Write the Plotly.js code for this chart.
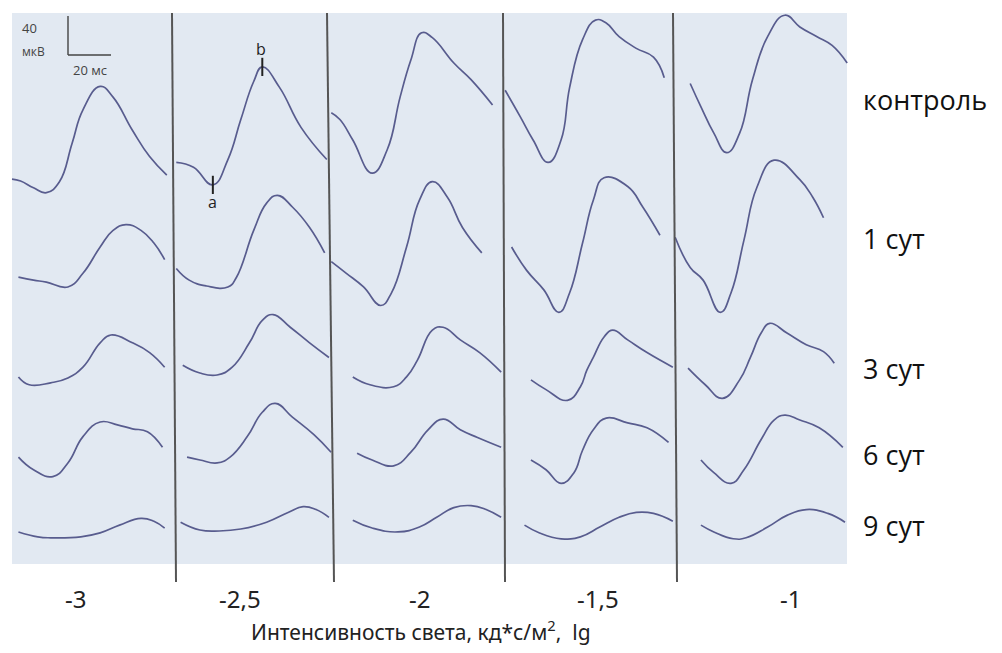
<!DOCTYPE html>
<html>
<head>
<meta charset="utf-8">
<script src="https://cdn.plot.ly/plotly-3.0.1.min.js"></script>
<style>html,body{margin:0;padding:0;background:#fff;}#chart{width:1002px;height:653px;}</style>
</head>
<body>
<div id="chart"></div>
<script>
// ---- DATA ----
const intensities = ['-3', '-2,5', '-2', '-1,5', '-1'];   // lg cd*s/m^2
const groups = ['контроль', '1 сут', '3 сут', '6 сут', '9 сут'];

// time (ms from panel start) and amplitude (µV from row baseline), one array per intensity
const t_control = [[0,4,10,16,22,28,33,41,47,56,64,72],[2,10,19,26,32,38,42,50,60,72],[2,6,12,21,28,34,39,44,49,59,67,77],[1,8,14,21,27,31,37,43,48,54,62,70,75],[8,13,19,25,31,37,44,52,59,67,74,81]];
const v_control = [[1,-1,-8,-13,-2,38,72,96,85,51,24,5],[18,13,-5,21,62,101,116,95,54,21],[69,62,41,7,31,85,123,151,146,120,103,77],[92,65,41,18,41,95,144,164,161,147,135,126,105],[99,75,48,28,48,103,147,169,157,147,138,120]];

const t_day1 = [[3,10,16,26,33,41,47,53,60,66,71],[2,8,16,26,30,38,44,49,56,64,71],[2,9,17,25,30,37,43,49,56,63,72],[4,11,19,26,31,37,42,47,58,65,73],[1,8,14,22,27,33,39,47,59,65,70]];
const v_day1 = [[8,5,3,-2,12,39,56,62,56,43,26],[17,5,-1,-2,8,56,84,92,80,59,33],[24,12,-2,-21,-8,39,87,106,90,59,33],[39,15,-5,-28,-8,43,87,110,101,80,51],[49,18,5,-28,-8,46,100,128,108,90,69]];

const t_day3 = [[3,8,18,26,33,41,46,56,64,71],[5,13,21,28,36,42,47,55,64,73],[12,20,31,37,42,49,54,62,71,81],[13,20,30,36,39,42,47,51,58,67,79],[7,15,23,31,36,41,45,53,62,70,75]];
const v_day3 = [[-2,-10,-8,-3,8,33,41,33,23,8],[10,2,0,8,33,56,62,49,33,18],[-2,-10,-12,-2,15,46,49,36,23,3],[-5,-15,-26,-12,5,18,39,46,36,23,8],[7,-10,-24,-5,18,43,53,43,31,24,12]];

const t_day6 = [[3,10,19,26,33,41,49,56,63,70],[7,13,21,27,35,42,48,56,66,74],[14,21,31,39,47,54,62,70,81],[13,20,27,33,37,42,48,58,67,77],[13,19,27,33,41,47,52,59,68,79]];
const v_day6 = [[3,-10,-17,-3,24,39,36,32,29,13],[3,0,-3,3,24,49,58,44,26,8],[7,0,-6,8,31,42,31,23,13],[0,-10,-24,-13,10,31,43,38,33,18],[0,-13,-24,-10,21,41,46,41,33,13]];

const t_day9 = [[3,12,18,32,41,50,60,66,71],[4,13,22,32,44,54,61,67,73],[12,21,33,43,51,59,67,74,81],[10,17,27,36,45,54,62,70,79],[13,19,28,34,44,53,62,72,80]];
const v_day9 = [[-2,-7,-8,-7,-3,5,12,9,2],[8,0,-1,1,8,18,24,21,13],[10,2,-2,3,13,23,25,21,13],[5,-3,-9,-7,3,13,18,17,9],[5,-2,-9,-8,3,15,21,17,8]];

const T = [t_control, t_day1, t_day3, t_day6, t_day9];
const V = [v_control, v_day1, v_day3, v_day6, v_day9];

// a- and b-wave markers (control, -2,5): index into that trace
const aIndex = 2, bIndex = 6;

// ---- LAYOUT (pixel geometry) ----
const W = 1002, H = 653;
const PX_MS = 2.15, PX_UV = 0.975;
const X = px => px / PX_MS;          // px -> ms axis
const Y = py => -py / PX_UV;         // px -> µV axis
const panelLeft = [12, 172, 327, 503, 673];
const rowBase = [180, 285, 375, 460, 530];
const waveColor = '#585c8e';

const traces = [];
for (let r = 0; r < groups.length; r++) {
  for (let c = 0; c < intensities.length; c++) {
    traces.push({
      type: 'scatter', mode: 'lines',
      x: T[r][c].map(t => X(panelLeft[c]) + t),
      y: V[r][c].map(v => Y(rowBase[r]) + v),
      line: {color: waveColor, width: 1.7, shape: 'spline', smoothing: 1.3},
      hoverinfo: 'skip', showlegend: false
    });
  }
}
// a / b tick marks
const ax = X(panelLeft[1]) + T[0][1][aIndex], ay = Y(rowBase[0]) + V[0][1][aIndex];
const bx = X(panelLeft[1]) + T[0][1][bIndex], by = Y(rowBase[0]) + V[0][1][bIndex];
traces.push({
  type: 'scatter', mode: 'markers', x: [ax, bx], y: [ay, by],
  marker: {symbol: 'line-ns', size: 13, line: {color: '#222', width: 2}},
  hoverinfo: 'skip', showlegend: false
});

const shapes = [
  {type: 'rect', xref: 'x', yref: 'y', x0: X(12), x1: X(847), y0: Y(13), y1: Y(564),
   fillcolor: '#e2e9f2', line: {width: 0}, layer: 'below'},
];
const dividers = [[172, 176], [327, 334], [503, 505], [673, 677]];
dividers.forEach(d => shapes.push({type: 'line', xref: 'x', yref: 'y',
  x0: X(d[0]), y0: Y(13), x1: X(d[1]), y1: Y(582), line: {color: '#555', width: 2}}));
// scale bar: 40 µV vertical, 20 ms horizontal
shapes.push({type: 'line', xref: 'x', yref: 'y', x0: X(68), y0: Y(55) + 40, x1: X(68), y1: Y(55), line: {color: '#444', width: 1.4}});
shapes.push({type: 'line', xref: 'x', yref: 'y', x0: X(68), y0: Y(55), x1: X(68) + 20, y1: Y(55), line: {color: '#444', width: 1.4}});

const narrow = 'Noto Sans, Open Sans, sans-serif';
const labelFont = 'Open Sans, Noto Sans, sans-serif';
const annotations = [];
const colLabelX = [75, 240, 419, 598, 790];
intensities.forEach((s, i) => annotations.push({xref: 'x', yref: 'y', x: X(colLabelX[i]), y: Y(598),
  text: s, showarrow: false, font: {family: narrow, size: 24, color: '#222'}}));
const rowLabelY = [99, 238, 368, 454, 525];
groups.forEach((g, i) => annotations.push({xref: 'x', yref: 'y', x: X(861), y: Y(rowLabelY[i]),
  text: g, xanchor: 'left', showarrow: false, font: {family: labelFont, size: 27, color: '#111'}}));
annotations.push({xref: 'x', yref: 'y', x: X(421), y: Y(630), showarrow: false,
  text: 'Интенсивность света, кд*с/м<sup>2</sup>,  lg', font: {family: narrow, size: 21, color: '#222'}});
annotations.push({xref: 'x', yref: 'y', x: X(20), y: Y(28), xanchor: 'left', showarrow: false,
  text: '40', font: {family: labelFont, size: 13, color: '#444'}});
annotations.push({xref: 'x', yref: 'y', x: X(20), y: Y(51), xanchor: 'left', showarrow: false,
  text: 'мкВ', font: {family: labelFont, size: 12, color: '#444'}});
annotations.push({xref: 'x', yref: 'y', x: X(90), y: Y(70), showarrow: false,
  text: '20 мс', font: {family: labelFont, size: 13, color: '#444'}});
annotations.push({xref: 'x', yref: 'y', x: ax, y: ay, yshift: -17, showarrow: false,
  text: 'a', font: {family: labelFont, size: 16, color: '#222'}});
annotations.push({xref: 'x', yref: 'y', x: bx, y: by, xshift: -1, yshift: 18, showarrow: false,
  text: 'b', font: {family: labelFont, size: 16, color: '#222'}});

const layout = {
  width: W, height: H, margin: {l: 0, r: 0, t: 0, b: 0},
  paper_bgcolor: '#fff', plot_bgcolor: '#fff',
  xaxis: {range: [0, X(W)], visible: false, fixedrange: true},
  yaxis: {range: [Y(H), 0], visible: false, fixedrange: true},
  shapes: shapes, annotations: annotations, showlegend: false
};
Plotly.newPlot('chart', traces, layout, {displayModeBar: false, staticPlot: true});
</script>
</body>
</html>
